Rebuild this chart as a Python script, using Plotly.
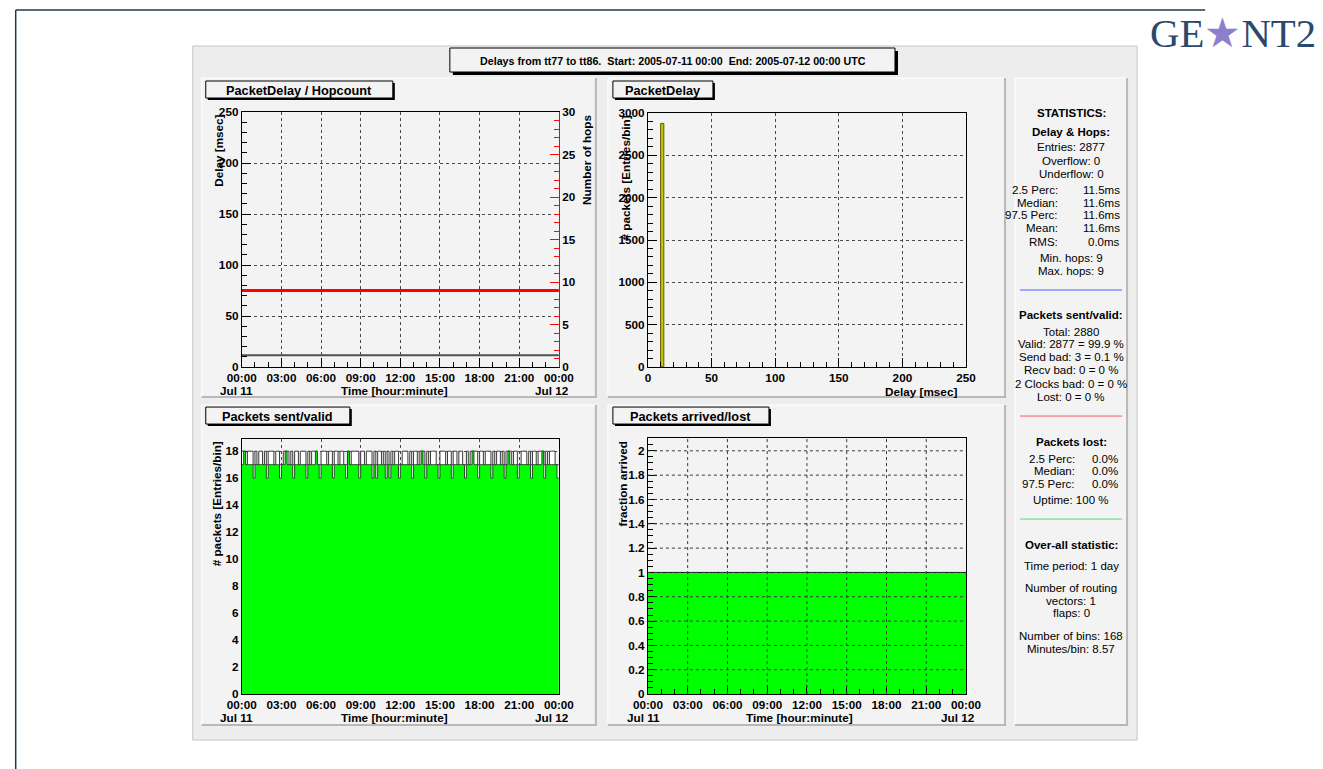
import plotly.graph_objects as go
import pandas as pd

W, H = 1323, 769

# ---------------- data ----------------
day_start = "2005-07-11 00:00"
day_end = "2005-07-12 00:00"

hour_ticks = ["2005-07-11 00:00", "2005-07-11 03:00", "2005-07-11 06:00",
              "2005-07-11 09:00", "2005-07-11 12:00", "2005-07-11 15:00",
              "2005-07-11 18:00", "2005-07-11 21:00", "2005-07-12 00:00"]
hour_tick_text = ["00:00", "03:00", "06:00", "09:00", "12:00",
                  "15:00", "18:00", "21:00", "00:00"]
day_labels = ["Jul 11", "Jul 12"]

# hourly delay [ms] and hop count
delay_ms = [11.6, 11.6, 11.6, 11.6, 11.6, 11.6, 11.6, 11.6, 11.6, 11.6, 11.6, 11.6, 11.6,
            11.6, 11.6, 11.6, 11.6, 11.6, 11.6, 11.6, 11.6, 11.6, 11.6, 11.6, 11.6]
hop_count = [9, 9, 9, 9, 9, 9, 9, 9, 9, 9, 9, 9, 9,
             9, 9, 9, 9, 9, 9, 9, 9, 9, 9, 9, 9]

# delay histogram (2.5 ms bins)
delay_bin_lo = [10.0]
delay_bin_width = 2.5
delay_bin_counts = [2877]

# packets per 8.57-minute bin
sent_per_bin = [
    18, 18, 17, 18, 18, 18, 17,
    18, 17, 18, 18, 17, 18, 17,
    18, 18, 18, 17, 18, 18, 17,
    17, 18, 18, 18, 17, 18, 17,
    18, 18, 17, 18, 18, 18, 17,
    18, 17, 18, 18, 18, 17, 17,
    18, 18, 18, 17, 18, 18, 17,
    18, 18, 17, 18, 18, 17, 17,
    18, 17, 18, 18, 18, 18, 17,
    18, 18, 17, 18, 18, 18, 17,
    18, 17, 18, 18, 17, 18, 17,
    18, 17, 18, 17, 18, 18, 17,
    17, 18, 18, 18, 17, 18, 17,
    18, 18, 17, 18, 18, 18, 17,
    18, 17, 18, 18, 18, 17, 17,
    18, 18, 18, 17, 18, 18, 17,
    18, 18, 17, 18, 18, 17, 17,
    18, 17, 18, 18, 18, 18, 17,
    18, 18, 17, 18, 18, 18, 17,
    18, 17, 18, 18, 17, 18, 17,
    18, 18, 18, 17, 18, 18, 17,
    17, 18, 18, 18, 17, 18, 17,
    18, 18, 17, 18, 18, 18, 17,
    18, 17, 18, 18, 18, 17, 17,
]
valid_per_bin = [
    17, 18, 17, 17, 17, 17, 16,
    17, 17, 17, 17, 17, 17, 16,
    17, 17, 17, 17, 17, 17, 16,
    17, 17, 18, 17, 17, 17, 16,
    17, 17, 17, 17, 17, 17, 16,
    17, 17, 17, 17, 18, 17, 16,
    17, 17, 17, 17, 17, 17, 16,
    17, 17, 17, 17, 17, 17, 16,
    18, 17, 17, 17, 17, 17, 16,
    17, 17, 17, 17, 17, 17, 16,
    17, 16, 17, 17, 17, 17, 16,
    17, 16, 17, 17, 17, 17, 16,
    17, 17, 17, 17, 17, 17, 16,
    17, 17, 17, 17, 18, 17, 16,
    17, 17, 17, 17, 17, 17, 16,
    17, 17, 17, 17, 17, 17, 16,
    17, 17, 17, 17, 17, 17, 16,
    17, 17, 17, 18, 17, 17, 16,
    17, 17, 17, 17, 17, 17, 16,
    17, 17, 17, 17, 17, 17, 16,
    17, 18, 17, 17, 17, 17, 16,
    17, 17, 17, 17, 17, 17, 16,
    17, 17, 17, 17, 17, 18, 16,
    17, 17, 17, 17, 17, 17, 16,
]
send_bad_bins = [63, 71, 78]
send_bad_base = [17, 16, 16]
send_bad_counts = [1, 1, 1]
send_bad_colors = ["#ff00ff", "#ff00ff", "#a020a0"]

arrived_fraction = [
    1.0, 1.0, 1.0, 1.0, 1.0, 1.0, 1.0, 1.0, 1.0, 1.0, 1.0, 1.0, 1.0, 1.0, 1.0, 1.0, 1.0, 1.0, 1.0, 1.0, 1.0, 1.0, 1.0, 1.0,
    1.0, 1.0, 1.0, 1.0, 1.0, 1.0, 1.0, 1.0, 1.0, 1.0, 1.0, 1.0, 1.0, 1.0, 1.0, 1.0, 1.0, 1.0, 1.0, 1.0, 1.0, 1.0, 1.0, 1.0,
    1.0, 1.0, 1.0, 1.0, 1.0, 1.0, 1.0, 1.0, 1.0, 1.0, 1.0, 1.0, 1.0, 1.0, 1.0, 1.0, 1.0, 1.0, 1.0, 1.0, 1.0, 1.0, 1.0, 1.0,
    1.0, 1.0, 1.0, 1.0, 1.0, 1.0, 1.0, 1.0, 1.0, 1.0, 1.0, 1.0, 1.0, 1.0, 1.0, 1.0, 1.0, 1.0, 1.0, 1.0, 1.0, 1.0, 1.0, 1.0,
    1.0, 1.0, 1.0, 1.0, 1.0, 1.0, 1.0, 1.0, 1.0, 1.0, 1.0, 1.0, 1.0, 1.0, 1.0, 1.0, 1.0, 1.0, 1.0, 1.0, 1.0, 1.0, 1.0, 1.0,
    1.0, 1.0, 1.0, 1.0, 1.0, 1.0, 1.0, 1.0, 1.0, 1.0, 1.0, 1.0, 1.0, 1.0, 1.0, 1.0, 1.0, 1.0, 1.0, 1.0, 1.0, 1.0, 1.0, 1.0,
    1.0, 1.0, 1.0, 1.0, 1.0, 1.0, 1.0, 1.0, 1.0, 1.0, 1.0, 1.0, 1.0, 1.0, 1.0, 1.0, 1.0, 1.0, 1.0, 1.0, 1.0, 1.0, 1.0, 1.0,
]
fraction_ticks = [0, 0.2, 0.4, 0.6, 0.8, 1.0, 1.2, 1.4, 1.6, 1.8, 2.0]

# ---------------- helpers ----------------
# Layout positions below are given in screen pixels; these map them onto
# paper coordinates for the page as it is displayed.
SX, OX = 0.977, 15.3
SY, OY = 0.983, 5.0
FS = 1.02  # text size compensation for the same display scaling


def px(x):
    return ((x - OX) / SX) / W


def py(y):
    return 1 - ((y - OY) / SY) / H


FONT = "Liberation Sans"
tick_font = dict(family=FONT, size=11.5 * FS, color="black", weight="bold")


def axis(**kw):
    d = dict(showline=True, linecolor="black", linewidth=1, ticks="inside",
             ticklen=9, tickcolor="black", tickwidth=1, tickfont=tick_font,
             showgrid=True, gridcolor="#4a4a4a", griddash="dot", gridwidth=1,
             zeroline=False, fixedrange=True)
    d.update(kw)
    return d


def time_axis(**kw):
    return axis(type="date", range=[day_start, day_end], tickmode="array",
                tickvals=hour_ticks, ticktext=hour_tick_text,
                minor=dict(dtick=3600000, ticklen=5, tickcolor="black",
                           ticks="inside", showgrid=False), **kw)


# ---------------- traces ----------------
hours = pd.date_range(day_start, day_end, freq="h")
bin_edges = pd.date_range(day_start, day_end, periods=len(valid_per_bin) + 1)
bin_width = bin_edges[1] - bin_edges[0]
step_x = list(bin_edges)

fig = go.Figure()

# PacketDelay / Hopcount
fig.add_trace(go.Scatter(x=hours, y=delay_ms, mode="lines",
                         line=dict(color="#505050", width=2),
                         xaxis="x", yaxis="y", hoverinfo="skip"))
fig.add_trace(go.Scatter(x=hours, y=hop_count, mode="lines",
                         line=dict(color="#ff0000", width=3),
                         xaxis="x", yaxis="y5", hoverinfo="skip"))

# PacketDelay histogram
fig.add_trace(go.Bar(x=[lo + delay_bin_width / 2 for lo in delay_bin_lo],
                     y=delay_bin_counts, width=delay_bin_width,
                     marker=dict(color="#c8c800", line=dict(color="#5a5a00", width=1)),
                     xaxis="x2", yaxis="y2", hoverinfo="skip"))

# Packets sent/valid
fig.add_trace(go.Scatter(x=step_x, y=sent_per_bin + sent_per_bin[-1:],
                         mode="lines", line=dict(color="#3c3c3c", width=1, shape="hv"),
                         fill="tozeroy", fillcolor="#ffffff",
                         xaxis="x3", yaxis="y3", hoverinfo="skip"))
fig.add_trace(go.Scatter(x=step_x, y=valid_per_bin + valid_per_bin[-1:],
                         mode="lines", line=dict(color="#2a4a2a", width=1, shape="hv"),
                         fill="tozeroy", fillcolor="#00ff00",
                         xaxis="x3", yaxis="y3", hoverinfo="skip"))
fig.add_trace(go.Bar(x=[bin_edges[i] + bin_width / 2 for i in send_bad_bins],
                     y=send_bad_counts, base=send_bad_base,
                     width=bin_width.total_seconds() * 1000,
                     marker=dict(color=send_bad_colors, line=dict(width=0)),
                     xaxis="x3", yaxis="y3", hoverinfo="skip"))

# Packets arrived/lost
fig.add_trace(go.Scatter(x=step_x, y=arrived_fraction + arrived_fraction[-1:],
                         mode="lines", line=dict(color="black", width=1, shape="hv"),
                         fill="tozeroy", fillcolor="#00ff00",
                         xaxis="x4", yaxis="y4", hoverinfo="skip"))

# ---------------- axes ----------------
layout_axes = dict(
    xaxis=time_axis(domain=[px(242), px(559)], anchor="y", mirror=True),
    yaxis=axis(domain=[py(365), py(110)], anchor="x", range=[0, 250],
               tick0=0, dtick=50, minor=dict(dtick=10, ticklen=5, ticks="inside",
                                             tickcolor="black")),
    yaxis5=axis(overlaying="y", side="right", anchor="x", range=[0, 30],
                tick0=0, dtick=5, linecolor="#ff0000", tickcolor="#ff0000",
                showgrid=False,
                minor=dict(dtick=1, ticklen=5, ticks="inside", tickcolor="#ff0000")),
    xaxis2=axis(domain=[px(648), px(966)], anchor="y2", range=[0, 250],
                tick0=0, dtick=50, mirror=True,
                minor=dict(dtick=10, ticklen=5, ticks="inside", tickcolor="black")),
    yaxis2=axis(domain=[py(365), py(111)], anchor="x2", range=[0, 3000],
                tick0=0, dtick=500, mirror=True,
                minor=dict(dtick=100, ticklen=5, ticks="inside", tickcolor="black")),
    xaxis3=time_axis(domain=[px(242), px(559)], anchor="y3", mirror=True,
                     layer="below traces"),
    yaxis3=axis(domain=[py(692), py(437)], anchor="x3", range=[0, 18.9],
                tick0=0, dtick=2, mirror=True, layer="below traces",
                minor=dict(dtick=1, ticklen=5, ticks="inside", tickcolor="black")),
    xaxis4=time_axis(domain=[px(648), px(966)], anchor="y4", mirror=True,
                     showgrid=False),
    yaxis4=axis(domain=[py(692), py(436)], anchor="x4", range=[0, 2.105],
                tick0=0, dtick=0.2, mirror=True, showgrid=False,
                minor=dict(dtick=0.05, ticklen=5, ticks="inside", tickcolor="black")),
)

# ---------------- decorations ----------------
shapes = []


def rect(x0, y0, x1, y1, fill, line=None, width=1, layer="below"):
    shapes.append(dict(type="rect", xref="paper", yref="paper",
                       x0=px(x0), x1=px(x1), y0=py(y1), y1=py(y0),
                       fillcolor=fill, layer=layer,
                       line=dict(color=line or fill, width=width if line else 0)))


def hline(x0, x1, y, color, width=1, layer="below"):
    shapes.append(dict(type="line", xref="paper", yref="paper",
                       x0=px(x0), x1=px(x1), y0=py(y), y1=py(y),
                       line=dict(color=color, width=width), layer=layer))


def vline(x, y0, y1, color, width=1, layer="below"):
    shapes.append(dict(type="line", xref="paper", yref="paper",
                       x0=px(x), x1=px(x), y0=py(y0), y1=py(y1),
                       line=dict(color=color, width=width), layer=layer))


# page frame
hline(16, 1205, 8, "#1d3b4d", 1.5)
vline(16, 8, 769, "#1d3b4d", 1.5)

# canvas
rect(193, 44, 1137, 738, "#ededed", "#c6c6c6", 1)

# pads with bevel edges
for (x0, y0, x1, y1) in [(202, 76, 596, 395), (608, 76, 1005, 395),
                         (202, 403, 596, 723), (608, 403, 1005, 723),
                         (1015, 76, 1127, 723)]:
    rect(x0, y0, x1, y1, "#f3f3f3")
    hline(x0, x1, y0, "#ffffff", 1)
    vline(x0, y0, y1, "#ffffff", 1)
    hline(x0, x1 + 1, y1, "#b8b8b8", 2)
    vline(x1, y0, y1, "#b8b8b8", 2)

# title boxes with drop shadow
def label_box(x0, y0, x1, y1, off):
    rect(x0 + off, y0 + off, x1 + off, y1 + off, "#000000")
    rect(x0, y0, x1, y1, "#f3f3f3", "#000000", 1)


label_box(450, 46, 895, 70, 3)
label_box(206, 79, 393, 96, 2)
label_box(613, 79, 713, 96, 2)
label_box(206, 405, 350, 422, 2)
label_box(613, 405, 769, 422, 2)

# statistics separators
hline(1020, 1122, 288, "#5a5aff", 1)
hline(1020, 1122, 414, "#ff5a5a", 1)
hline(1020, 1122, 517, "#5ae05a", 1)

# dotted grid drawn over the arrived fraction fill
for t in hour_ticks[1:-1]:
    shapes.append(dict(type="line", xref="x4", yref="y4 domain", x0=t, x1=t,
                       y0=0, y1=1, layer="above",
                       line=dict(color="#3a3a3a", width=1, dash="dot")))
for v in fraction_ticks[1:]:
    shapes.append(dict(type="line", xref="x4 domain", yref="y4", x0=0, x1=1,
                       y0=v, y1=v, layer="above",
                       line=dict(color="#3a3a3a", width=1, dash="dot")))

annotations = []


def text(x, y, s, size=11.5, bold=False, xanchor="center", yanchor="middle",
         angle=0, color="black", family=FONT):
    annotations.append(dict(x=px(x), y=py(y), xref="paper", yref="paper",
                            text=s, showarrow=False, xanchor=xanchor,
                            yanchor=yanchor, textangle=angle,
                            font=dict(family=family, size=size * FS, color=color,
                                      weight="bold" if bold else "normal")))


# logo
text(1148, 31, "GE<span style='color:#8c80cc'>★</span>NT2", size=40,
     xanchor="left", color="#2b4a6b", family="Liberation Serif")

# headline
text(673, 59, "Delays from tt77 to tt86.  Start: 2005-07-11 00:00  End: 2005-07-12 00:00 UTC",
     size=10.5, bold=True)

# pad titles
text(299, 88, "PacketDelay / Hopcount", size=12.5, bold=True)
text(663, 88, "PacketDelay", size=12.5, bold=True)
text(278, 414, "Packets sent/valid", size=12.5, bold=True)
text(691, 414, "Packets arrived/lost", size=12.5, bold=True)

# axis titles
text(218, 111, "Delay [msec]", bold=True, angle=-90, yanchor="top")
text(586, 111, "Number of hops", bold=True, angle=-90, yanchor="top")
text(395, 388, "Time [hour:minute]", bold=True)
text(626, 111, "# packets [Entries/bin]", bold=True, angle=-90, yanchor="top")
text(959, 389, "Delay [msec]", bold=True, xanchor="right")
text(217, 437, "# packets [Entries/bin]", bold=True, angle=-90, yanchor="top")
text(395, 715, "Time [hour:minute]", bold=True)
text(623, 437, "fraction arrived", bold=True, angle=-90, yanchor="top")
text(800, 715, "Time [hour:minute]", bold=True)

# date labels under the first and last time ticks
for (x_first, x_last, y) in [(237, 552, 388), (237, 552, 715), (644, 958, 715)]:
    text(x_first, y, day_labels[0], bold=True)
    text(x_last, y, day_labels[1], bold=True)

# statistics panel
cx = 1071
centered = [
    ("STATISTICS:", 111, True), ("Delay &amp; Hops:", 130, True),
    ("Entries: 2877", 145, False), ("Overflow: 0", 159, False),
    ("Underflow: 0", 172, False),
    ("Min. hops: 9", 256, False), ("Max. hops: 9", 269, False),
    ("Packets sent/valid:", 313, True), ("Total: 2880", 330, False),
    ("Valid: 2877 = 99.9 %", 342, False), ("Send bad: 3 = 0.1 %", 355, False),
    ("Recv bad: 0 = 0 %", 368, False), ("2 Clocks bad: 0 = 0 %", 382, False),
    ("Lost: 0 = 0 %", 395, False),
    ("Packets lost:", 440, True), ("Uptime: 100 %", 498, False),
    ("Over-all statistic:", 543, True), ("Time period: 1 day", 564, False),
    ("Number of routing", 586, False), ("vectors: 1", 599, False),
    ("flaps: 0", 611, False), ("Number of bins: 168", 634, False),
    ("Minutes/bin: 8.57", 647, False),
]
for s, y, b in centered:
    text(cx, y, s, size=11.3, bold=b)

delay_rows = [("2.5 Perc:", "11.5ms", 188), ("Median:", "11.6ms", 201),
              ("97.5 Perc:", "11.6ms", 213), ("Mean:", "11.6ms", 226),
              ("RMS:", "0.0ms", 240)]
for lab, val, y in delay_rows:
    text(1060, y, lab, size=11.3, xanchor="right")
    text(1122, y, val, size=11.3, xanchor="right")

lost_rows = [("2.5 Perc:", "0.0%", 457), ("Median:", "0.0%", 469),
             ("97.5 Perc:", "0.0%", 482)]
for lab, val, y in lost_rows:
    text(1077, y, lab, size=11.3, xanchor="right")
    text(1120, y, val, size=11.3, xanchor="right")

fig.update_layout(
    width=W, height=H, margin=dict(l=0, r=0, t=0, b=0),
    paper_bgcolor="white", plot_bgcolor="rgba(0,0,0,0)",
    showlegend=False, barmode="overlay",
    shapes=shapes, annotations=annotations,
    **layout_axes,
)

fig.write_html("out.html")
